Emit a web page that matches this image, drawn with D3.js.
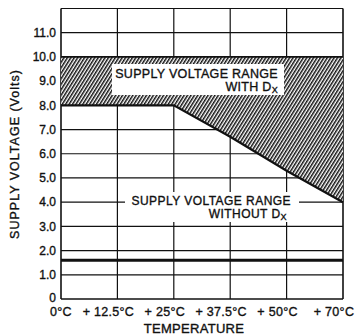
<!DOCTYPE html>
<html>
<head>
<meta charset="utf-8">
<script src="https://cdn.jsdelivr.net/npm/d3@7"></script>
<style>
  html, body { margin: 0; padding: 0; background: #fff; }
  svg { display: block; }
  text { font-family: "Liberation Sans", Arial, Helvetica, sans-serif; fill: #111; stroke: #111; stroke-width: 0.35; }
</style>
</head>
<body>
<svg id="chart" width="356" height="335"></svg>
<script>
// Temperature categories along the bottom axis
const temps = ["0°C", "+ 12.5°C", "+ 25°C", "+ 37.5°C", "+ 50°C", "+ 70°C"];
// Upper limit of the supply range when Dx is fitted (volts)
const vMaxWithDx = [10.0, 10.0, 10.0, 10.0, 10.0, 10.0];
// Upper limit of the supply range without Dx (volts)
const vMaxWithoutDx = [8.0, 8.0, 8.0, 6.7, 5.3, 4.0];
// Vertical scale ticks and their labels
const yTicks = [0, 1, 2, 3, 4, 5, 6, 7, 8, 9, 10, 11];
const yTickLabels = ["0", "1.0", "2.0", "3.0", "4.0", "5.0", "6.0", "7.0", "8.0", "9.0", "10.0", "11.0"];
// Scale break drawn between 1.0 and 2.0
const scaleBreak = 1.6;
const yTop = 12;

const svg = d3.select("#chart");
const x = d3.scalePoint().domain(temps).range([61, 343]);
const y = d3.scaleLinear().domain([0, yTop]).range([299, 8.5]);

// Diagonal hatch for the "with Dx" band
const defs = svg.append("defs");
defs.append("pattern")
  .attr("id", "hatch")
  .attr("patternUnits", "userSpaceOnUse")
  .attr("width", 2.9).attr("height", 10)
  .attr("patternTransform", "rotate(32)")
  .append("rect")
  .attr("x", 0).attr("y", 0).attr("width", 1.5).attr("height", 10)
  .attr("fill", "#111");

const grid = svg.append("g").attr("stroke", "#111").attr("stroke-width", 1.2);

// Horizontal grid lines
grid.selectAll("line.h")
  .data(yTicks.filter(v => v > 0))
  .join("line")
  .attr("x1", x.range()[0]).attr("x2", x.range()[1])
  .attr("y1", d => y(d)).attr("y2", d => y(d));

// Vertical grid lines
grid.selectAll("line.v")
  .data(temps)
  .join("line")
  .attr("x1", d => x(d)).attr("x2", d => x(d))
  .attr("y1", y(yTop)).attr("y2", y(0))
  .attr("stroke-width", (d, i) => (i === 0 || i === temps.length - 1) ? 1.6 : 1.2);

// Frame top and bottom
grid.append("line")
  .attr("x1", x.range()[0]).attr("x2", x.range()[1])
  .attr("y1", y(yTop)).attr("y2", y(yTop));
grid.append("line")
  .attr("x1", x.range()[0]).attr("x2", x.range()[1])
  .attr("y1", y(0)).attr("y2", y(0)).attr("stroke-width", 1.6);

// Scale break
svg.append("line")
  .attr("x1", x.range()[0]).attr("x2", x.range()[1])
  .attr("y1", y(scaleBreak)).attr("y2", y(scaleBreak))
  .attr("stroke", "#111").attr("stroke-width", 3);

// Band between the two limits
const band = d3.area()
  .x((d, i) => x(temps[i]))
  .y0((d, i) => y(vMaxWithoutDx[i]))
  .y1((d, i) => y(vMaxWithDx[i]));
svg.append("path").datum(temps)
  .attr("d", band)
  .attr("fill", "#fff");
svg.append("path").datum(temps)
  .attr("d", band)
  .attr("fill", "url(#hatch)");

// Band edges
const lineWith = d3.line().x((d, i) => x(temps[i])).y((d, i) => y(vMaxWithDx[i]));
const lineWithout = d3.line().x((d, i) => x(temps[i])).y((d, i) => y(vMaxWithoutDx[i]));
svg.append("path").datum(temps).attr("d", lineWith)
  .attr("fill", "none").attr("stroke", "#111").attr("stroke-width", 1.6);
svg.append("path").datum(temps).attr("d", lineWithout)
  .attr("fill", "none").attr("stroke", "#111").attr("stroke-width", 2.2);

// Label inside the hatched band
svg.append("rect")
  .attr("x", 112).attr("y", 64).attr("width", 172).attr("height", 31)
  .attr("fill", "#fff");
const lblWith = svg.append("g").attr("font-size", 12.5).attr("letter-spacing", 0.3);
lblWith.append("text").attr("x", 278).attr("y", 77.5).attr("text-anchor", "end")
  .text("SUPPLY VOLTAGE RANGE");
const w2 = lblWith.append("text").attr("x", 278).attr("y", 90.5).attr("text-anchor", "end");
w2.append("tspan").text("WITH D");
w2.append("tspan").attr("font-size", 9).attr("dy", 2).text("X");

// Label for the range without Dx
svg.append("rect")
  .attr("x", 125).attr("y", 192).attr("width", 174).attr("height", 30)
  .attr("fill", "#fff");
const lblWo = svg.append("g").attr("font-size", 12).attr("letter-spacing", 0.45);
lblWo.append("text").attr("x", 291).attr("y", 205).attr("text-anchor", "end")
  .text("SUPPLY VOLTAGE RANGE");
const w3 = lblWo.append("text").attr("x", 287).attr("y", 217.5).attr("text-anchor", "end");
w3.append("tspan").text("WITHOUT D");
w3.append("tspan").attr("font-size", 9).attr("dy", 2).text("X");

// Y tick labels
svg.append("g").selectAll("text")
  .data(yTicks)
  .join("text")
  .attr("x", 56).attr("y", d => y(d) + (d === 0 ? 2.5 : 4.3))
  .attr("text-anchor", "end")
  .attr("font-size", 12)
  .text((d, i) => yTickLabels[i]);

// X tick labels
svg.append("g").selectAll("text")
  .data(temps)
  .join("text")
  .attr("x", (d, i) => i === 0 ? x(d) : x(d) - 9)
  .attr("y", 316)
  .attr("text-anchor", "middle")
  .attr("font-size", 12.5)
  .attr("letter-spacing", 0.3)
  .text(d => d);

// Axis titles
svg.append("text")
  .attr("x", 194).attr("y", 333)
  .attr("text-anchor", "middle")
  .attr("font-size", 13)
  .attr("letter-spacing", 0.3)
  .text("TEMPERATURE");
svg.append("text")
  .attr("transform", "translate(19,154) rotate(-90)")
  .attr("text-anchor", "middle")
  .attr("font-size", 12.5)
  .attr("letter-spacing", 1)
  .text("SUPPLY VOLTAGE (Volts)");
</script>
</body>
</html>
